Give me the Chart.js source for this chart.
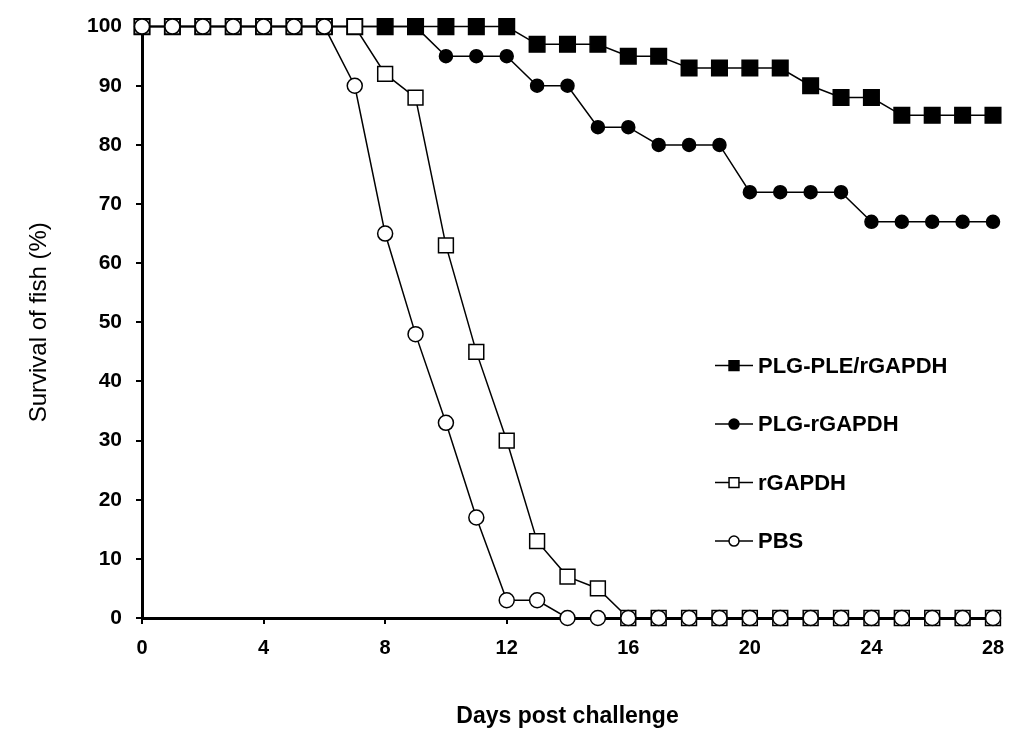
<!DOCTYPE html>
<html>
<head>
<meta charset="utf-8">
<title>Survival of fish</title>
<script src="https://cdn.jsdelivr.net/npm/chart.js@4.4.0/dist/chart.umd.min.js"></script>
<style>
  html, body { margin: 0; padding: 0; background: #fff; }
  #wrap { width: 1024px; height: 747px; }
</style>
</head>
<body>
<div id="wrap"><canvas id="survivalChart"></canvas></div>
<script>
// days post challenge
const days = [0, 1, 2, 3, 4, 5, 6, 7, 8, 9, 10, 11, 12, 13, 14, 15, 16, 17, 18, 19, 20, 21, 22, 23, 24, 25, 26, 27, 28];

// survival (%) per group
const plgPleRgapdh = [100, 100, 100, 100, 100, 100, 100, 100, 100, 100, 100, 100, 100, 97, 97, 97, 95, 95, 93, 93, 93, 93, 90, 88, 88, 85, 85, 85, 85];
const plgRgapdh = [100, 100, 100, 100, 100, 100, 100, 100, 100, 100, 95, 95, 95, 90, 90, 83, 83, 80, 80, 80, 72, 72, 72, 72, 67, 67, 67, 67, 67];
const rgapdh = [100, 100, 100, 100, 100, 100, 100, 100, 92, 88, 63, 45, 30, 13, 7, 5, 0, 0, 0, 0, 0, 0, 0, 0, 0, 0, 0, 0, 0];
const pbs = [100, 100, 100, 100, 100, 100, 100, 90, 65, 48, 33, 17, 3, 3, 0, 0, 0, 0, 0, 0, 0, 0, 0, 0, 0, 0, 0, 0, 0];

const groupNames = ['PLG-PLE/rGAPDH', 'PLG-rGAPDH', 'rGAPDH', 'PBS'];

const FONT = "'Liberation Sans', Arial, sans-serif";

function toPoints(values) {
    return days.map((d, i) => ({ x: d, y: values[i] }));
}

function series(label, values, style, fill, radius, order) {
    return {
        label: label,
        data: toPoints(values),
        borderColor: '#000',
        borderWidth: 1.5,
        pointStyle: style,
        pointRadius: radius,
        pointBackgroundColor: fill,
        pointBorderColor: '#000',
        pointBorderWidth: 1.5,
        legendRadius: style === 'rect' ? 7 : 5,
        tension: 0,
        clip: false,
        order: order
    };
}

// legend drawn inside the plot, like the original figure
const insideLegend = {
    id: 'insideLegend',
    afterDatasetsDraw(chart, args, opts) {
        const ctx = chart.ctx;
        const area = chart.chartArea;
        ctx.save();
        chart.data.datasets.forEach((ds, i) => {
            const x0 = area.left + opts.dx;
            const y = area.top + opts.dy + i * opts.gap;
            ctx.strokeStyle = '#000';
            ctx.lineWidth = 1.5;
            ctx.beginPath();
            ctx.moveTo(x0, y);
            ctx.lineTo(x0 + opts.lineLen, y);
            ctx.stroke();
            ctx.fillStyle = ds.pointBackgroundColor;
            ctx.strokeStyle = '#000';
            ctx.lineWidth = 1.5;
            Chart.helpers.drawPoint(ctx, {
                pointStyle: ds.pointStyle,
                rotation: 0,
                radius: ds.legendRadius,
                borderWidth: 1.5
            }, x0 + opts.lineLen / 2, y);
            ctx.fillStyle = '#000';
            ctx.font = 'bold 22px ' + FONT;
            ctx.textAlign = 'left';
            ctx.textBaseline = 'middle';
            ctx.fillText(ds.label, x0 + opts.lineLen + 5, y + 1);
        });
        ctx.restore();
    }
};

function createChart() {
    const ctx = document.getElementById('survivalChart').getContext('2d');
    new Chart(ctx, {
        type: 'line',
        data: {
            datasets: [
                series(groupNames[0], plgPleRgapdh, 'rect', '#000', 11, 3),
                series(groupNames[1], plgRgapdh, 'circle', '#000', 6.5, 2),
                series(groupNames[2], rgapdh, 'rect', '#fff', 10.5, 1),
                series(groupNames[3], pbs, 'circle', '#fff', 7.5, 0)
            ]
        },
        plugins: [insideLegend],
        options: {
            responsive: true,
            maintainAspectRatio: false,
            animation: false,
            layout: {
                padding: { left: 0, top: 21, right: 31, bottom: 0 }
            },
            plugins: {
                legend: { display: false },
                tooltip: { enabled: false },
                insideLegend: { dx: 573, dy: 339, gap: 58.5, lineLen: 38 }
            },
            scales: {
                x: {
                    type: 'linear',
                    min: 0,
                    max: 28,
                    ticks: {
                        stepSize: 4,
                        color: '#000',
                        padding: 12,
                        font: { family: FONT, size: 20, weight: 'bold' }
                    },
                    grid: { drawOnChartArea: false, drawTicks: true, tickLength: 6, color: '#000', lineWidth: 2 },
                    border: { display: true, color: '#000', width: 3 },
                    title: {
                        display: true,
                        text: 'Days post challenge',
                        color: '#000',
                        font: { family: FONT, size: 23, weight: 'bold' },
                        padding: { top: 0, bottom: 17 }
                    },
                    afterFit: function(scale) { scale.height = 129; }
                },
                y: {
                    min: 0,
                    max: 100,
                    ticks: {
                        stepSize: 10,
                        color: '#000',
                        padding: 14,
                        font: { family: FONT, size: 21, weight: 'bold' }
                    },
                    grid: { drawOnChartArea: false, drawTicks: true, tickLength: 6, color: '#000', lineWidth: 2 },
                    border: { display: true, color: '#000', width: 3 },
                    title: {
                        display: true,
                        text: 'Survival of fish (%)',
                        color: '#000',
                        font: { family: FONT, size: 24, weight: 'normal' },
                        padding: { top: 25, bottom: 0 }
                    },
                    afterFit: function(scale) { scale.width = 142; }
                }
            }
        }
    });
}

window.onload = createChart;
</script>
</body>
</html>
